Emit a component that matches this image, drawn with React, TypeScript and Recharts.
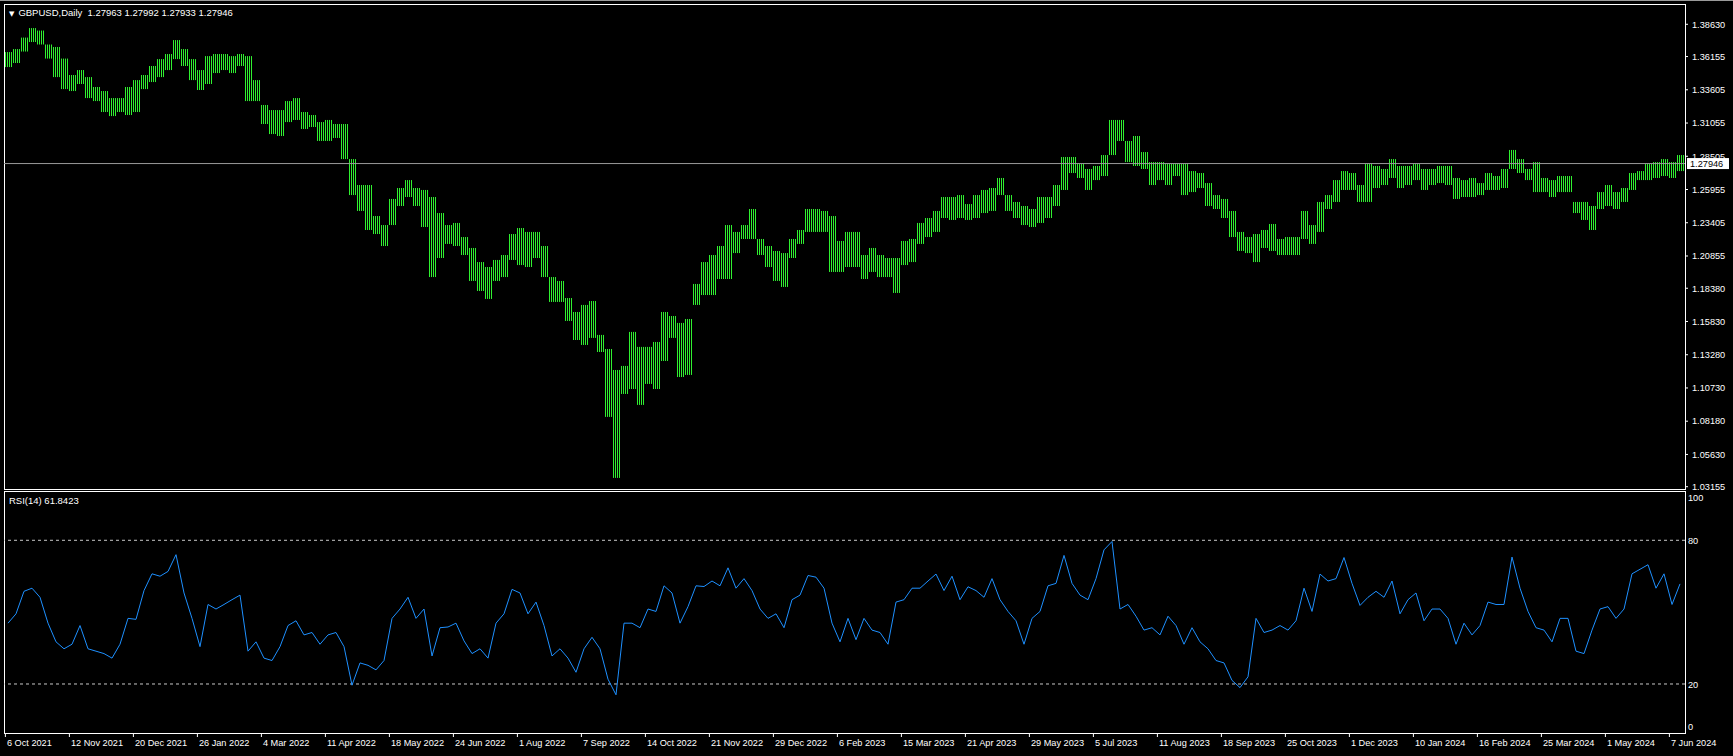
import React from "react";
import {
  ComposedChart,
  LineChart,
  Bar,
  Line,
  XAxis,
  YAxis,
  ReferenceLine,
} from "recharts";

// each sample = 4 daily bars (high / low of the group)
const highs = [
  1.365, 1.3673, 1.3761, 1.3834, 1.3815, 1.3708, 1.3689, 1.36, 1.3474, 1.3512,
  1.3458, 1.3382, 1.3351, 1.3297, 1.3297, 1.3382, 1.3435, 1.3474, 1.3543, 1.3596,
  1.3635, 1.3742, 1.3673, 1.3596, 1.3512, 1.3619, 1.3635, 1.3635, 1.3619, 1.3635,
  1.3619, 1.3435, 1.3244, 1.3205, 1.3205, 1.3274, 1.3297, 1.319, 1.3167, 1.3113,
  1.3129, 1.3098, 1.3098, 1.2829, 1.263, 1.263, 1.2392, 1.2323, 1.2523, 1.2607,
  1.2668, 1.2607, 1.2592, 1.2538, 1.2415, 1.2323, 1.2339, 1.2231, 1.2147, 1.2039,
  1.2001, 1.2055, 1.2093, 1.2254, 1.23, 1.227, 1.227, 1.2162, 1.1924, 1.1894,
  1.1763, 1.1656, 1.171, 1.174, 1.148, 1.1372, 1.1211, 1.1242, 1.1503, 1.1388,
  1.1388, 1.1426, 1.1656, 1.1625, 1.1572, 1.1602, 1.1871, 1.2039, 1.2093, 1.2162,
  1.2323, 1.227, 1.2323, 1.2446, 1.2216, 1.2162, 1.2124, 1.2108, 1.2216, 1.2285,
  1.2446, 1.2446, 1.2431, 1.2392, 1.2201, 1.227, 1.227, 1.2093, 1.2147, 1.2093,
  1.207, 1.207, 1.2201, 1.2216, 1.2339, 1.2377, 1.2431, 1.2538, 1.2538, 1.2553,
  1.2484, 1.2553, 1.2592, 1.2607, 1.2684, 1.2553, 1.25, 1.2469, 1.2446, 1.2538,
  1.2538, 1.263, 1.2845, 1.2845, 1.2791, 1.2753, 1.2776, 1.286, 1.3129, 1.3129,
  1.2968, 1.3006, 1.2883, 1.2806, 1.2806, 1.2791, 1.2791, 1.2791, 1.2737, 1.2722,
  1.2645, 1.2553, 1.2523, 1.2431, 1.227, 1.2231, 1.2254, 1.2285, 1.2331, 1.2216,
  1.2231, 1.2231, 1.2431, 1.2323, 1.25, 1.2553, 1.2668, 1.2737, 1.2722, 1.263,
  1.2791, 1.2776, 1.2753, 1.2829, 1.2776, 1.2776, 1.2791, 1.2753, 1.2753, 1.2776,
  1.2776, 1.2684, 1.2668, 1.2684, 1.2645, 1.2722, 1.2699, 1.2753, 1.2899, 1.2829,
  1.2753, 1.2806, 1.2684, 1.2668, 1.2699, 1.2699, 1.25, 1.25, 1.2469, 1.2576,
  1.263, 1.2576, 1.2607, 1.2722, 1.2737, 1.2791, 1.2806, 1.2829, 1.2806, 1.286,
];

const lows = [
  1.3535, 1.3566, 1.3654, 1.3727, 1.3708, 1.36, 1.3458, 1.3366, 1.3351, 1.3405,
  1.3297, 1.3274, 1.319, 1.3159, 1.319, 1.3167, 1.319, 1.3366, 1.342, 1.3458,
  1.3512, 1.3596, 1.3543, 1.3435, 1.3359, 1.3405, 1.3489, 1.3512, 1.3489, 1.3543,
  1.3274, 1.3274, 1.3098, 1.3021, 1.3006, 1.3113, 1.3129, 1.306, 1.3075, 1.2968,
  1.2968, 1.2991, 1.2829, 1.2553, 1.2431, 1.2285, 1.2254, 1.2162, 1.2323, 1.2469,
  1.2538, 1.2469, 1.2308, 1.1924, 1.207, 1.2178, 1.2162, 1.2093, 1.1894, 1.1817,
  1.1756, 1.1894, 1.1924, 1.2055, 1.2016, 1.2001, 1.207, 1.1924, 1.1733, 1.1733,
  1.1587, 1.1441, 1.1403, 1.1457, 1.1349, 1.0851, 1.0383, 1.1027, 1.1065, 1.0943,
  1.1104, 1.1065, 1.128, 1.1457, 1.1157, 1.1173, 1.171, 1.1786, 1.1786, 1.1909,
  1.1909, 1.2108, 1.2216, 1.2216, 1.2093, 1.2001, 1.1894, 1.1848, 1.207, 1.2178,
  1.227, 1.227, 1.227, 1.1963, 1.1963, 1.2001, 1.2001, 1.1909, 1.1963, 1.1924,
  1.1924, 1.1802, 1.2016, 1.2039, 1.2178, 1.2231, 1.227, 1.2377, 1.2362, 1.2377,
  1.2362, 1.2377, 1.2415, 1.2431, 1.2553, 1.2431, 1.2377, 1.2323, 1.2308, 1.2339,
  1.2377, 1.2469, 1.2592, 1.2722, 1.2684, 1.2592, 1.2668, 1.2699, 1.286, 1.2968,
  1.2806, 1.2776, 1.2753, 1.263, 1.2668, 1.263, 1.2699, 1.2553, 1.2576, 1.2607,
  1.2469, 1.2446, 1.2377, 1.2231, 1.2124, 1.2108, 1.2039, 1.2147, 1.2124, 1.2093,
  1.2093, 1.2093, 1.2216, 1.2178, 1.227, 1.2446, 1.25, 1.2592, 1.2592, 1.25,
  1.25, 1.2607, 1.263, 1.2684, 1.2607, 1.263, 1.2668, 1.2592, 1.263, 1.2645,
  1.263, 1.2523, 1.2538, 1.2538, 1.2553, 1.2592, 1.2592, 1.2607, 1.2753, 1.2722,
  1.2668, 1.2576, 1.2576, 1.2538, 1.2576, 1.2576, 1.2415, 1.2362, 1.2285, 1.2446,
  1.2469, 1.2446, 1.25, 1.2592, 1.2668, 1.2668, 1.2684, 1.2699, 1.2684, 1.2737,
];

const rsiValues = [
  45.4, 49.3, 58.7, 60, 56.2, 45.4, 37.6, 34.7, 36.6, 44.4,
  34.7, 33.7, 32.7, 30.8, 36.6, 47.4, 47, 59, 66, 65,
  67, 74, 58, 47.4, 35.6, 53.2, 51.3, 53.2, 55.2, 57.1,
  33.7, 37.6, 30.8, 29.8, 35.6, 44.4, 46.4, 40.5, 41.5, 36.6,
  40.5, 41.5, 35.6, 19.5, 28.8, 27.8, 25.9, 29.8, 47.4, 51.3,
  56.2, 47.4, 51.3, 31.7, 43.5, 43.8, 45.4, 38, 32.7, 34.7,
  30.8, 45.4, 49.3, 59.5, 58, 49.3, 54.2, 44.4, 31.7, 34.7,
  30.8, 24.9, 34.7, 39.5, 34.7, 22, 15.5, 45.4, 45.4, 43.5,
  51.3, 50.3, 61, 58, 45.4, 52.3, 61, 60.7, 63, 61,
  68.5, 60, 64, 59, 51.3, 47.4, 49.3, 43.5, 55.2, 57.1,
  65.3, 64.6, 60, 45.4, 37.6, 47.4, 38.5, 47.4, 42.5, 41.5,
  36.6, 54.2, 55.2, 60, 60, 63, 65.9, 59, 65, 55.2,
  60.6, 59, 56.2, 64, 55.2, 50.3, 46.4, 36.6, 47.4, 50.3,
  61, 62, 73.7, 62, 57.1, 55.2, 64, 76, 79.5, 51.3,
  53.2, 48.3, 42.5, 43.5, 40.5, 48.3, 44.4, 36.6, 43.5, 37.6,
  34.7, 29.8, 28.8, 21.5, 18.5, 23, 47.4, 41.5, 42.5, 44.4,
  42.5, 46.4, 60, 50.3, 65.9, 63, 64, 72.8, 62, 52.8,
  56.2, 58.7, 56.2, 63, 49.3, 55.2, 58, 46.4, 51.3, 51.3,
  47.4, 36.6, 45.4, 40.5, 44.4, 54.2, 53.2, 53.2, 73, 60,
  50.3, 43.5, 42.5, 37.6, 47.4, 47.4, 33.7, 32.7, 42.5, 51.3,
  52.3, 47.4, 51.3, 66, 67.9, 69.8, 60, 66, 53.2, 61.8,
];

const dateLabels = [
  "6 Oct 2021", "12 Nov 2021", "20 Dec 2021", "26 Jan 2022", "4 Mar 2022",
  "11 Apr 2022", "18 May 2022", "24 Jun 2022", "1 Aug 2022", "7 Sep 2022",
  "14 Oct 2022", "21 Nov 2022", "29 Dec 2022", "6 Feb 2023", "15 Mar 2023",
  "21 Apr 2023", "29 May 2023", "5 Jul 2023", "11 Aug 2023", "18 Sep 2023",
  "25 Oct 2023", "1 Dec 2023", "10 Jan 2024", "16 Feb 2024", "25 Mar 2024",
  "1 May 2024", "7 Jun 2024",
];

const priceTicks = [
  1.03155, 1.0563, 1.0818, 1.1073, 1.1328, 1.1583, 1.1838, 1.20855,
  1.23405, 1.25955, 1.28505, 1.31055, 1.33605, 1.36155, 1.3863,
];
const rsiTicks = [0, 20, 80, 100];
const rsiLevels = [80, 20];
const lastQuote = [1.27963, 1.27992, 1.27933, 1.27946];
const lastRsi = 61.8423;

const GREEN = "#30f030";
const BLUE = "#1e90ff";
const FONT = "'Liberation Sans', Arial, sans-serif";
const FS = 9.2;

// 8px per sample (4 bars x 2px), plot area 1681px wide
const xDomain = [-0.5, 1681 / 8 - 0.5];
const dateTicks = dateLabels.map((_, k) => k * 8 - 0.325);

const data = highs.map((h, i) => ({ i, range: [lows[i], h], rsi: rsiValues[i] }));

function StripedBar(props: any) {
  const { x, y, width, height } = props;
  if (x == null || y == null) return null;
  const cx = x + width / 2;
  const top = Math.min(y, y + height);
  const h = Math.max(Math.abs(height), 1);
  return <rect x={cx - 4} y={top} width={8} height={h} fill="url(#dailyBars)" />;
}

function CurrentPrice(props: any) {
  const vb = props.viewBox || {};
  const x = (vb.x ?? 0) + (vb.width ?? 0) + 2;
  const y = vb.y ?? 0;
  return (
    <g>
      <rect x={x} y={y - 5.5} width={42} height={11} fill="#fff" />
      <text x={x + 3} y={y + 3.5} fontSize={FS} fontFamily={FONT} fill="#000">
        {lastQuote[3].toFixed(5)}
      </text>
    </g>
  );
}

function DateTick(props: any) {
  const { x, y, payload } = props;
  const label = dateLabels[Math.round((payload.value + 0.325) / 8)];
  return (
    <text x={x + 1.5} y={y} dy="0.71em" fontSize={FS} fontFamily={FONT} fill="#fff">
      {label}
    </text>
  );
}

function RsiTick(props: any) {
  const { x, y, payload } = props;
  const shift = payload.value === 100 ? 5.6 : payload.value === 0 ? -5 : 0.5;
  return (
    <text x={x} y={y + shift} dy="0.355em" fontSize={FS} fontFamily={FONT} fill="#fff">
      {payload.value}
    </text>
  );
}

export default function App() {
  return (
    <div
      style={{
        position: "absolute",
        left: 0,
        top: 0,
        width: 1733,
        height: 756,
        background: "#000",
        overflow: "hidden",
        fontFamily: FONT,
      }}
    >
      <div style={{ position: "absolute", left: 0, top: 0, width: 1733, height: 1, background: "#9a9a9a" }} />
      <div
        style={{
          position: "absolute",
          left: 4,
          top: 4,
          width: 1682,
          height: 486,
          border: "1px solid #fff",
          boxSizing: "border-box",
        }}
      />
      <div
        style={{
          position: "absolute",
          left: 4,
          top: 491,
          width: 1682,
          height: 243,
          border: "1px solid #fff",
          boxSizing: "border-box",
        }}
      />

      {/* price panel: chart runs 14px below the panel so the lowest price label is not clipped */}
      <div style={{ position: "absolute", left: 4, top: 4 }}>
        <ComposedChart width={1729} height={500} data={data} margin={{ top: 0, right: 0, bottom: 0, left: 0 }}>
          <defs>
            <pattern id="dailyBars" x={0} y={0} width={2} height={10} patternUnits="userSpaceOnUse">
              <rect x={1} y={0} width={1} height={10} fill={GREEN} />
            </pattern>
          </defs>
          <XAxis dataKey="i" type="number" domain={xDomain} allowDataOverflow hide />
          <YAxis
            orientation="right"
            width={48}
            domain={[1.01828, 1.40187]}
            allowDataOverflow
            ticks={priceTicks}
            interval={0}
            axisLine={false}
            tickLine={{ stroke: "#fff" }}
            tickSize={3}
            tickMargin={4}
            tick={{ fill: "#fff", fontSize: FS, fontFamily: FONT, textAnchor: "start" }}
            tickFormatter={(v: number) => v.toFixed(5)}
          />
          <Bar dataKey="range" barSize={6} shape={<StripedBar />} isAnimationActive={false} />
          <ReferenceLine y={lastQuote[3]} stroke="#9a9a9a" ifOverflow="visible" label={<CurrentPrice />} />
        </ComposedChart>
      </div>

      <div style={{ position: "absolute", left: 4, top: 491 }}>
        <LineChart width={1729} height={265} data={data} margin={{ top: 0, right: 0, bottom: 0, left: 0 }}>
          <XAxis
            dataKey="i"
            type="number"
            domain={xDomain}
            allowDataOverflow
            ticks={dateTicks}
            interval={0}
            height={23}
            axisLine={false}
            tickLine={{ stroke: "#fff" }}
            tickSize={4}
            tickMargin={2}
            tick={<DateTick />}
          />
          <YAxis
            orientation="right"
            width={48}
            domain={[-0.46, 100.58]}
            allowDataOverflow
            ticks={rsiTicks}
            interval={0}
            axisLine={false}
            tickLine={false}
            tickSize={3}
            tickMargin={0}
            tick={<RsiTick />}
          />
          {rsiLevels.map((lv) => (
            <ReferenceLine key={lv} y={lv} stroke="#c8c8c8" strokeDasharray="3 3" />
          ))}
          <Line
            dataKey="rsi"
            type="linear"
            stroke={BLUE}
            strokeWidth={1}
            dot={false}
            activeDot={false}
            isAnimationActive={false}
          />
        </LineChart>
      </div>

      <div
        style={{
          position: "absolute",
          left: 9,
          top: 7,
          color: "#fff",
          fontSize: 9.5,
          lineHeight: "12px",
          whiteSpace: "pre",
        }}
      >
        <span style={{ fontSize: 7, fontFamily: "'DejaVu Sans'", marginRight: 4 }}>▼</span>
        {"GBPUSD,Daily  " + lastQuote.map((q) => q.toFixed(5)).join(" ")}
      </div>
      <div
        style={{
          position: "absolute",
          left: 9,
          top: 495,
          color: "#fff",
          fontSize: 9.5,
          lineHeight: "12px",
          whiteSpace: "pre",
        }}
      >
        {"RSI(14) " + lastRsi.toFixed(4)}
      </div>
    </div>
  );
}
